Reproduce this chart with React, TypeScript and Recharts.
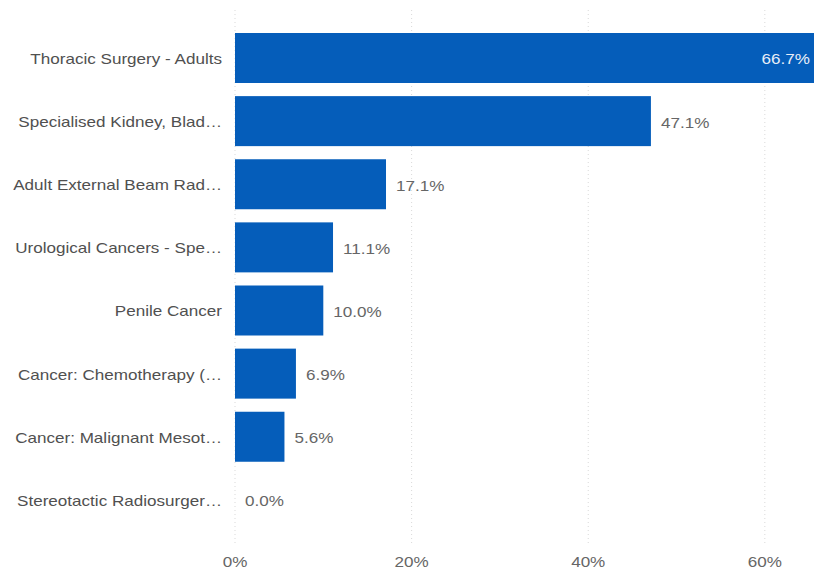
import React from "react";
import { BarChart, Bar, XAxis, YAxis, CartesianGrid } from "recharts";

const categories = [
  "Thoracic Surgery - Adults",
  "Specialised Kidney, Blad…",
  "Adult External Beam Rad…",
  "Urological Cancers - Spe…",
  "Penile Cancer",
  "Cancer: Chemotherapy (…",
  "Cancer: Malignant Mesot…",
  "Stereotactic Radiosurger…",
];
const values = [66.7, 47.1, 17.1, 11.1, 10.0, 6.9, 5.6, 0.0];
const xTicks = [0, 20, 40, 60];

const data = categories.map((name, i) => ({ name, value: values[i] }));
const maxVal = Math.max(...values);

const FONT = "'Liberation Sans', Arial, sans-serif";
const SX = 1.22;
const FS = 14;

const StretchText = ({ x, y, anchor, fill, children }: any) => (
  <g transform={`translate(${x},${y + 1.5})`}>
    <text
      transform={`scale(${SX},1)`}
      x={0}
      y={0}
      textAnchor={anchor}
      dominantBaseline="central"
      fill={fill}
      fontSize={FS}
      fontFamily={FONT}
    >
      {children}
    </text>
  </g>
);

const YTick = (props: any) => {
  const { x, y, payload } = props;
  return (
    <StretchText x={x} y={y} anchor="end" fill="#505050">
      {payload.value}
    </StretchText>
  );
};

const XTick = (props: any) => {
  const { x, y, payload } = props;
  return (
    <StretchText x={x} y={y + 8} anchor="middle" fill="#666666">
      {`${payload.value}%`}
    </StretchText>
  );
};

const BarShape = (props: any) => {
  const { x, y, width, height, fill, value } = props;
  const v = Array.isArray(value) ? value[1] - value[0] : value;
  const text = `${Number(v).toFixed(1)}%`;
  const cy = y + height / 2;
  return (
    <g>
      {width > 0 && <rect x={x} y={y} width={width} height={height} fill={fill} />}
      {v === maxVal ? (
        <StretchText x={x + width - 14} y={cy} anchor="end" fill="#e8eef8">
          {text}
        </StretchText>
      ) : (
        <StretchText x={x + width + 10} y={cy} anchor="start" fill="#666666">
          {text}
        </StretchText>
      )}
    </g>
  );
};

export default function App() {
  return (
    <div style={{ position: "absolute", left: 0, top: 0, width: 814, height: 571, overflow: "hidden", background: "#fff" }}>
      <BarChart
        width={834}
        height={571}
        data={data}
        layout="vertical"
        margin={{ top: 10, right: 10, left: 0, bottom: 0 }}
      >
        <CartesianGrid horizontal={false} stroke="#d9d9d9" strokeDasharray="1 3" />
        <XAxis
          type="number"
          domain={[0, maxVal]}
          ticks={xTicks}
          axisLine={false}
          tickLine={false}
          height={26}
          tick={<XTick />}
        />
        <YAxis
          type="category"
          dataKey="name"
          width={235}
          axisLine={false}
          tickLine={false}
          tickMargin={7}
          padding={{ top: 16, bottom: 14 }}
          tick={<YTick />}
        />
        <Bar dataKey="value" fill="#055DBA" barSize={50} isAnimationActive={false} shape={<BarShape />} />
      </BarChart>
    </div>
  );
}
